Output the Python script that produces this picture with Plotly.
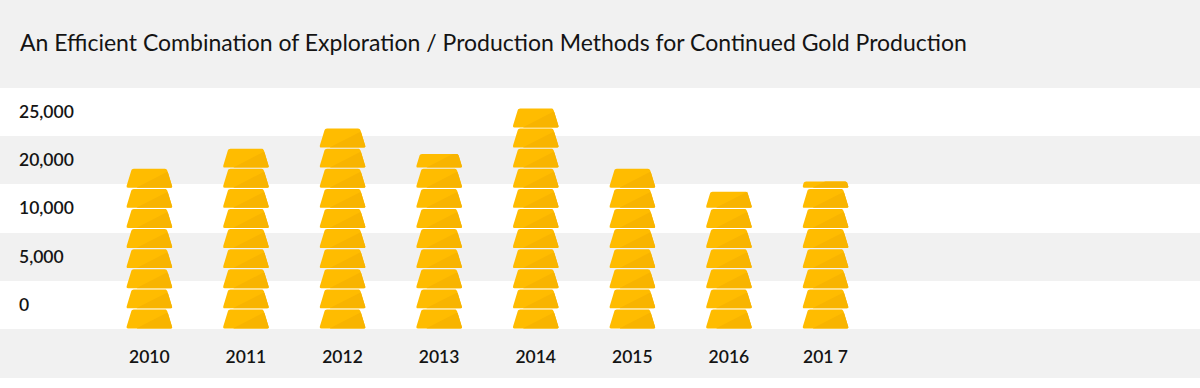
import plotly.graph_objects as go

years = ["2010", "2011", "2012", "2013", "2014", "2015", "2016", "201 7"]
stack_heights = [8.0, 9.0, 10.0, 8.72, 11.0, 8.0, 6.85, 7.33]
tick_labels = ["0", "5,000", "10,000", "20,000", "25,000"]
title = "An Efficient Combination of Exploration / Production Methods for Continued Gold Production"

PX_X = 96.6      # pixels per category
PX_Y = 20.1      # pixels per stack unit
BASE = 329       # pixel row of the baseline
BAND = 48.3 / PX_Y
FONT = "Lato"
GOLD = "#FFBC00"
DARK = "#F8B400"
GREY = "#F1F1F1"

BW = 46.5 / PX_X
TW = 35 / PX_X
H = 18.9 / 20.1


def half_width(t):
    return BW / 2 + (TW - BW) / 2 * t


def rounded(poly, radius=2.0, steps=4):
    out = []
    n = len(poly)
    for i in range(n):
        p0, p1, p2 = poly[i - 1], poly[i], poly[(i + 1) % n]
        def toward(a, b):
            dx, dy = (b[0] - a[0]) * PX_X, (b[1] - a[1]) * PX_Y
            d = (dx * dx + dy * dy) ** 0.5 or 1
            r = min(radius, d / 2)
            return a[0] + (b[0] - a[0]) * r / d, a[1] + (b[1] - a[1]) * r / d
        a, b = toward(p1, p0), toward(p1, p2)
        for s in range(steps + 1):
            t = s / steps
            out.append(((1 - t) ** 2 * a[0] + 2 * t * (1 - t) * p1[0] + t * t * b[0],
                        (1 - t) ** 2 * a[1] + 2 * t * (1 - t) * p1[1] + t * t * b[1]))
    return out


def bar_polys(cx, level, frac):
    y0 = level + 0.03
    top = frac * H if frac < 1 else H
    hw0, hwt = half_width(0), half_width(top / H)
    body = [(cx - hw0, y0), (cx + hw0, y0), (cx + hwt, y0 + top), (cx - hwt, y0 + top)]
    # darker lower-right facet: a diagonal running from the bottom edge up to the right edge
    sx = cx - hw0 + 0.22 * 2 * hw0
    reach = 0.85 * H
    ex = cx + half_width(reach / H)
    if top >= reach:
        dark = [(sx, y0), (cx + hw0, y0), (ex, y0 + reach)]
    else:
        xc = sx + (ex - sx) * top / reach
        dark = [(sx, y0), (cx + hw0, y0), (cx + hwt, y0 + top), (xc, y0 + top)]
    return rounded(body), rounded(dark, radius=1.0, steps=2)


def collect():
    gx, gy, dx, dy = [], [], [], []
    for i, v in enumerate(stack_heights):
        level = 0
        while level < v - 1e-6:
            frac = min(1.0, v - level)
            b, d = bar_polys(i, level, frac)
            gx += [p[0] for p in b] + [None]
            gy += [p[1] for p in b] + [None]
            dx += [p[0] for p in d] + [None]
            dy += [p[1] for p in d] + [None]
            level += 1
    return gx, gy, dx, dy


gx, gy, dx, dy = collect()
fig = go.Figure()
fig.add_trace(go.Scatter(x=gx, y=gy, fill="toself", fillcolor=GOLD, mode="lines",
                         line=dict(width=0), hoverinfo="skip", showlegend=False))
fig.add_trace(go.Scatter(x=dx, y=dy, fill="toself", fillcolor=DARK, mode="lines",
                         line=dict(width=0), hoverinfo="skip", showlegend=False))

# alternating background bands
shapes = []
plot_h = BASE
bands_px = [(0, 88), (136, 184), (233, 281), (329, 378)]
for a, b in bands_px:
    shapes.append(dict(type="rect", xref="paper", yref="paper", x0=0, x1=1,
                       y0=1 - b / plot_h, y1=1 - a / plot_h,
                       fillcolor=GREY, line_width=0, layer="below"))

fig.update_layout(
    width=1200, height=388,
    margin=dict(l=0, r=0, t=0, b=388 - BASE, pad=0),
    paper_bgcolor="white", plot_bgcolor="rgba(0,0,0,0)",
    shapes=shapes,
    title=dict(text=title, x=20 / 1200, xanchor="left", y=1 - 43 / 388, yanchor="middle",
               xref="paper", yref="container", font=dict(family=FONT, size=23, color="#141414")),
    xaxis=dict(range=[-149.3 / PX_X, (1200 - 149.3) / PX_X], tickvals=list(range(len(years))),
               ticktext=years, showgrid=False, zeroline=False, showline=False,
               ticks="outside", ticklen=12, tickcolor="rgba(0,0,0,0)",
               tickfont=dict(family=FONT, size=17.5, color="#141414", weight=600)),
    yaxis=dict(range=[0, BASE / PX_Y], tickvals=[(i + 0.5) * BAND for i in range(len(tick_labels))],
               ticktext=tick_labels, showgrid=False, zeroline=False, showline=False,
               ticklabelposition="inside", ticklabelstandoff=16,
               tickfont=dict(family=FONT, size=17.5, color="#141414", weight=600)),
)
fig.write_html("out.html", config={"displayModeBar": False},
               post_script="document.body.style.margin='0';")
